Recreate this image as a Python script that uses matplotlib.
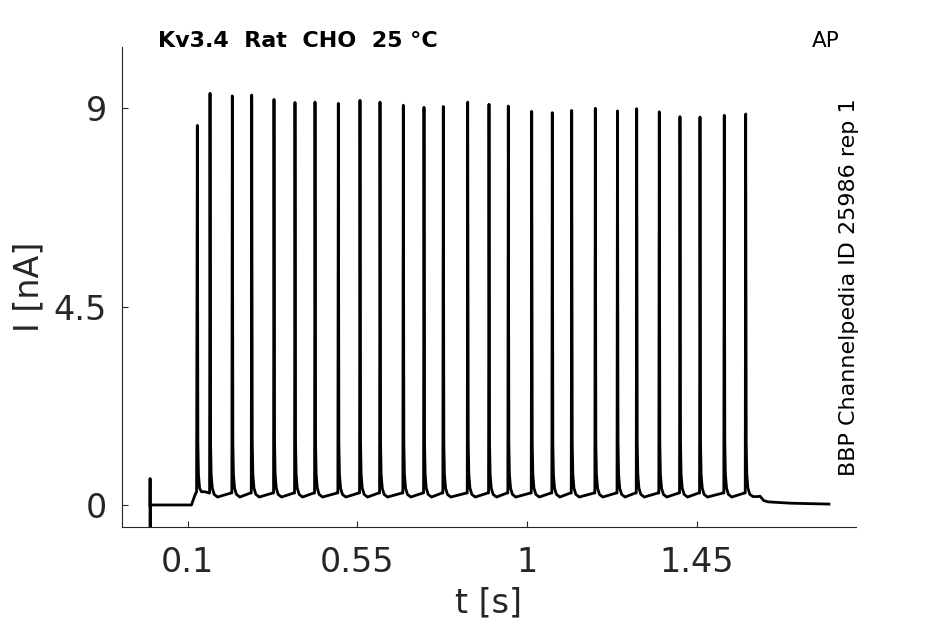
import numpy as np
import matplotlib
matplotlib.use('agg')
import matplotlib.pyplot as plt

## spike times [s] and peak currents [nA]
spike_t = [0.1255, 0.1592, 0.2183, 0.2698, 0.3289, 0.3846, 0.4377, 0.4995, 0.5570,
           0.6101, 0.6719, 0.7268, 0.7780, 0.8427, 0.8992, 0.9504, 1.0125, 1.0671,
           1.1186, 1.1812, 1.2400, 1.2910, 1.3509, 1.4058, 1.4589, 1.5233, 1.5801]
spike_amp = [8.61, 9.34, 9.28, 9.30, 9.20, 9.13, 9.14, 9.11, 9.18, 9.14, 9.07, 9.02,
             9.04, 9.14, 9.09, 9.05, 8.93, 8.90, 8.95, 9.00, 8.94, 8.99, 8.92, 8.81,
             8.80, 8.84, 8.87]

## foot of each spike: offset after peak [s] and current [nA]
decay_dt = [0.0015, 0.003, 0.006, 0.011, 0.02]
decay_i = [1.4, 0.7, 0.38, 0.24, 0.18]
pre_i = 0.27

## start of sweep (capacitive transient + step onset)
head_t = [0.0, 0.0002, 0.0004, 0.0008, 0.110, 0.114, 0.119, 0.1235]
head_i = [0.0, 0.60, -1.50, 0.0, 0.0, 0.10, 0.22, 0.30]
## end of sweep after the last spike
tail_t = [1.600, 1.612, 1.618, 1.622, 1.628, 1.640, 1.700, 1.801]
tail_i = [0.19, 0.19, 0.20, 0.16, 0.10, 0.07, 0.04, 0.02]

tv = list(head_t)
iv = list(head_i)
for k in range(len(spike_t)):
    ts, a = spike_t[k], spike_amp[k]
    if k > 0:
        tv.append(ts - 0.0012)
        iv.append(pre_i)
    tv.append(ts)
    iv.append(a)
    nxt = spike_t[k + 1] if k + 1 < len(spike_t) else tail_t[0]
    for d, v in zip(decay_dt, decay_i):
        if ts + d < nxt - 0.004:
            tv.append(ts + d)
            iv.append(v if k > 0 else max(v, 0.30))
    if k + 1 < len(spike_t) and k > 0:
        tv.append(nxt - 0.004)
        iv.append(pre_i)
tv += tail_t
iv += tail_i

fig = plt.figure(figsize=(9.45, 6.24), dpi=100)
ax = fig.add_axes([0.1291, 0.156, 0.7767, 0.7687])
ax.plot(tv, iv, color='black', lw=2.0, solid_joinstyle='round')

ax.set_xlim(-0.0743, 1.8727)
ax.set_ylim(-0.492, 10.39)
ax.set_xticks([0.1, 0.55, 1, 1.45])
ax.set_xticklabels(['0.1', '0.55', '1', '1.45'])
ax.set_yticks([0, 4.5, 9])
ax.set_yticklabels(['0', '4.5', '9'])

gray = '#262626'
for s in ['top', 'right']:
    ax.spines[s].set_visible(False)
for s in ['left', 'bottom']:
    ax.spines[s].set_color(gray)
    ax.spines[s].set_linewidth(0.8)
ax.tick_params(axis='both', direction='in', length=4.5, width=0.8, color=gray,
               labelcolor=gray, labelsize=24)
ax.tick_params(axis='x', pad=14)
ax.tick_params(axis='y', pad=11)

ax.set_xlabel('t [s]', fontsize=24, color=gray)
ax.set_ylabel('I [nA]', fontsize=24, color=gray)
ax.xaxis.set_label_coords(0.5, -0.125)
ax.yaxis.set_label_coords(-0.104, 0.5)

fig.text(158 / 945, 1 - 47 / 624, 'Kv3.4  Rat  CHO  25 °C', fontsize=16,
         fontweight='bold', va='baseline', ha='left')
fig.text(812 / 945, 1 - 47 / 624, 'AP', fontsize=15.5, va='baseline', ha='left')
fig.text(849 / 945, 1 - 287 / 624, 'BBP Channelpedia ID 25986 rep 1', fontsize=16,
         rotation=90, va='center', ha='center')

fig.savefig('out.png', dpi=100)
